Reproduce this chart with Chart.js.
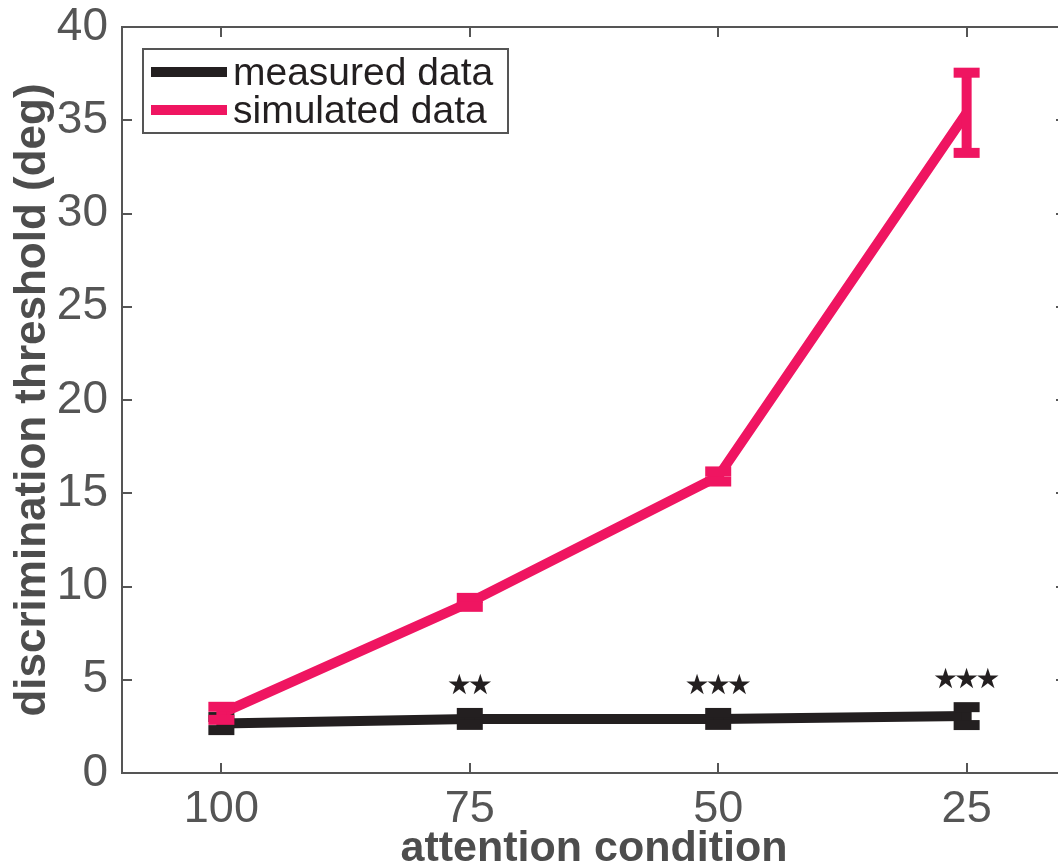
<!DOCTYPE html>
<html>
<head>
<meta charset="utf-8">
<title>Discrimination threshold</title>
<script src="https://cdn.jsdelivr.net/npm/chart.js@4.4.1/dist/chart.umd.min.js"></script>
<style>
    html, body { margin: 0; padding: 0; overflow: hidden; background: #fff; }
    canvas { display: block; }
</style>
</head>
<body>
<canvas id="thresholdChart" width="1072" height="880"></canvas>
<script>
// attention condition (%) and thresholds in degrees
const conditions = ['100', '75', '50', '25'];
const measured = [2.65, 2.9, 2.9, 3.05];
const measuredErr = [0.35, 0.32, 0.32, 0.48];
const simulated = [3.2, 9.15, 15.9, 35.4];
const simulatedErr = [0.35, 0.24, 0.27, 2.15];
const stars = ['', '\u2605\u2605', '\u2605\u2605\u2605', '\u2605\u2605\u2605'];
const yTicks = [0, 5, 10, 15, 20, 25, 30, 35, 40];

const BLACK = '#231f20';
const PINK = '#ef1561';
const AXIS = '#555555';
const FONT = "'Liberation Sans', Arial, Helvetica, sans-serif";

const toPoints = (vals) => vals.map((v, i) => ({ x: i, y: v }));

// error bars with caps, drawn right after each line
const errorBars = {
    id: 'errorBars',
    afterDatasetDraw(chart, args) {
        const ds = chart.data.datasets[args.index];
        if (!ds.errors) return;
        const { ctx, scales: { x, y } } = chart;
        ctx.save();
        ctx.fillStyle = ds.borderColor;
        ds.data.forEach((p, i) => {
            const px = x.getPixelForValue(p.x);
            const top = y.getPixelForValue(p.y + ds.errors[i]);
            const bot = y.getPixelForValue(p.y - ds.errors[i]);
            ctx.fillRect(px - 5, top, 10, bot - top);
            ctx.fillRect(px - 13, top - 5, 26, 10);
            ctx.fillRect(px - 13, bot - 5, 26, 10);
        });
        ctx.restore();
    }
};

// box frame with inward ticks, legend and significance stars
const frameAndLegend = {
    id: 'frameAndLegend',
    afterDraw(chart) {
        const { ctx, chartArea: a, scales: { x, y } } = chart;
        ctx.save();
        ctx.strokeStyle = AXIS;
        ctx.lineWidth = 2;
        ctx.strokeRect(a.left, a.top, a.right - a.left, a.bottom - a.top);
        ctx.beginPath();
        yTicks.forEach(t => {
            const py = Math.round(y.getPixelForValue(t));
            ctx.moveTo(a.left, py); ctx.lineTo(a.left + 10, py);
            ctx.moveTo(a.right, py); ctx.lineTo(a.right - 10, py);
        });
        conditions.forEach((c, i) => {
            const px = Math.round(x.getPixelForValue(i));
            ctx.moveTo(px, a.bottom); ctx.lineTo(px, a.bottom - 10);
            ctx.moveTo(px, a.top); ctx.lineTo(px, a.top + 10);
        });
        ctx.stroke();

        // stars above the measured points
        ctx.fillStyle = BLACK;
        ctx.font = "28px 'DejaVu Sans'";
        ctx.letterSpacing = '-4px';
        ctx.textAlign = 'center';
        ctx.textBaseline = 'middle';
        stars.forEach((s, i) => {
            if (!s) return;
            const py = y.getPixelForValue(measured[i] + measuredErr[i]) - 26;
            ctx.fillText(s, x.getPixelForValue(i) - 2, py);
        });
        ctx.letterSpacing = '0px';

        // legend box
        const lx = a.left + 21, ly = a.top + 22;
        ctx.lineWidth = 2;
        ctx.strokeStyle = AXIS;
        ctx.strokeRect(lx, ly, 365, 84);
        ctx.font = '39px ' + FONT;
        ctx.textAlign = 'left';
        ctx.textBaseline = 'alphabetic';
        chart.data.datasets.forEach((ds, i) => {
            const rowY = ly + 23 + i * 38;
            ctx.fillStyle = ds.borderColor;
            ctx.fillRect(lx + 8, rowY - 5, 76, 10);
            ctx.fillStyle = BLACK;
            ctx.fillText(ds.label, lx + 90, rowY + 13);
        });
        ctx.restore();
    }
};

const ctx = document.getElementById('thresholdChart').getContext('2d');
const thresholdChart = new Chart(ctx, {
    type: 'line',
    data: {
        datasets: [{
            label: 'measured data',
            data: toPoints(measured),
            errors: measuredErr,
            borderColor: BLACK,
            borderWidth: 10,
            pointRadius: 0,
            order: 2
        }, {
            label: 'simulated data',
            data: toPoints(simulated),
            errors: simulatedErr,
            borderColor: PINK,
            borderWidth: 10,
            pointRadius: 0,
            order: 1
        }]
    },
    options: {
        responsive: false,
        animation: false,
        devicePixelRatio: 1,
        layout: { padding: { top: 27, right: 6, left: 0, bottom: 0 } },
        plugins: {
            legend: { display: false },
            tooltip: { enabled: false }
        },
        scales: {
            x: {
                type: 'linear',
                min: -0.4,
                max: 3.4,
                afterBuildTicks: (scale) => {
                    scale.ticks = conditions.map((c, i) => ({ value: i }));
                },
                afterFit: (scale) => {
                    scale.height = 107;
                    scale.paddingLeft = 0;
                    scale.paddingRight = 0;
                },
                grid: { display: false, drawTicks: false },
                border: { display: false },
                ticks: {
                    callback: (v) => conditions[v],
                    color: AXIS,
                    font: { family: FONT, size: 45 },
                    padding: 10,
                    maxRotation: 0
                },
                title: {
                    display: true,
                    text: 'attention condition',
                    color: '#4d4d4d',
                    font: { family: FONT, size: 43, weight: 'bold' },
                    padding: { top: 0, bottom: 5 }
                }
            },
            y: {
                min: 0,
                max: 40,
                afterBuildTicks: (scale) => {
                    scale.ticks = yTicks.map(v => ({ value: v }));
                },
                afterFit: (scale) => {
                    scale.width = 122;
                    scale.paddingTop = 0;
                    scale.paddingBottom = 0;
                },
                grid: { display: false, drawTicks: false },
                border: { display: false },
                ticks: {
                    color: AXIS,
                    font: { family: FONT, size: 46 },
                    padding: 14
                },
                title: {
                    display: true,
                    text: 'discrimination threshold (deg)',
                    color: '#4d4d4d',
                    font: { family: FONT, size: 44, weight: 'bold' },
                    padding: { top: 6, bottom: 0 }
                }
            }
        }
    },
    plugins: [errorBars, frameAndLegend]
});
</script>
</body>
</html>
